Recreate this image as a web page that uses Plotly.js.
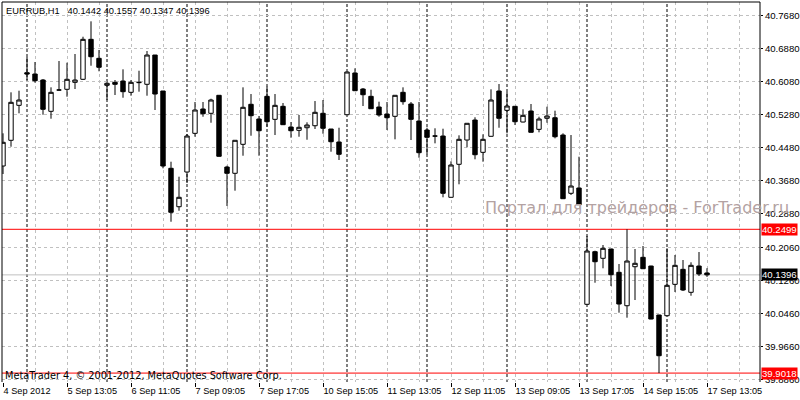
<!DOCTYPE html>
<html>
<head>
<meta charset="utf-8">
<script src="https://cdn.plot.ly/plotly-3.0.1.min.js"></script>
<style>html,body{margin:0;padding:0;background:#fff}#chart{width:800px;height:400px}</style>
</head>
<body>
<div id="chart"></div>
<script>
// ---- Data (EURRUB, H1) ----
const symbol = "EURRUB,H1";
const openP = [40.4032,40.4654,40.5501,40.6291,40.6259,40.6114,40.5356,40.5872,40.5889,40.6058,
  40.6131,40.7099,40.6639,40.5986,40.6058,40.6090,40.5816,40.6050,40.6010,40.6719,
  40.5848,40.3976,40.3046,40.3886,40.4823,40.5412,40.5308,40.5744,40.4007,40.3855,
  40.4557,40.5526,40.5170,40.5719,40.5162,40.5477,40.4976,40.4896,40.4959,40.5007,
  40.5308,40.4928,40.4613,40.5274,40.6284,40.5896,40.5719,40.5460,40.5291,40.5235,
  40.5816,40.5533,40.5121,40.4903,40.4760,40.4758,40.3274,40.4073,40.4661,40.5145,
  40.4363,40.4751,40.5848,40.5380,40.5477,40.5097,40.5363,40.4920,40.5187,40.5201,
  40.4782,40.3371,40.3499,40.0683,40.1957,40.1797,40.2022,40.1458,40.0649,40.1593,
  40.1821,40.1610,40.0424,40.0407,40.1167,40.1530,40.0974,40.1610,40.1442];
const highP = [40.4823,40.5816,40.5855,40.6671,40.6550,40.6138,40.5937,40.6574,40.6533,40.6744,
  40.7162,40.7535,40.6840,40.6073,40.6114,40.6373,40.6114,40.6339,40.6816,40.6719,
  40.5848,40.4136,40.3773,40.4807,40.5581,40.5581,40.5661,40.5744,40.4039,40.4654,
  40.5937,40.5775,40.5242,40.5952,40.5775,40.5557,40.5097,40.5267,40.5090,40.5605,
  40.5630,40.4928,40.4959,40.6308,40.6397,40.5920,40.5879,40.5589,40.5581,40.5744,
  40.5937,40.5581,40.5581,40.4959,40.4945,40.4935,40.4145,40.4775,40.5066,40.5211,
  40.4799,40.5889,40.6017,40.5823,40.5477,40.5405,40.5533,40.5225,40.5468,40.5371,
  40.4823,40.4782,40.4257,40.2337,40.1981,40.2119,40.2022,40.1659,40.2499,40.2022,
  40.2095,40.1615,40.0430,40.2039,40.1877,40.1756,40.1700,40.1949,40.1557];
const lowP = [40.3838,40.4499,40.5308,40.6114,40.6049,40.5274,40.5177,40.5865,40.5710,40.5896,
  40.6114,40.6460,40.6325,40.5630,40.5751,40.5685,40.5734,40.5831,40.5734,40.5388,
  40.3976,40.2683,40.2949,40.3620,40.4741,40.5225,40.5080,40.4260,40.3063,40.3434,
  40.4281,40.4765,40.4281,40.4983,40.4782,40.5025,40.4717,40.4741,40.4668,40.4928,
  40.4814,40.4378,40.4177,40.5274,40.5855,40.5484,40.5419,40.5225,40.4903,40.4678,
  40.5516,40.4661,40.4233,40.4315,40.4581,40.3274,40.3270,40.3589,40.4484,40.4194,
  40.4136,40.4745,40.4959,40.4823,40.5024,40.5090,40.4845,40.4848,40.5080,40.4702,
  40.3235,40.3330,40.3090,40.0678,40.1206,40.1555,40.1126,40.0480,40.0359,40.0787,
  40.1540,40.0322,39.9018,40.0402,40.0981,40.1005,40.0891,40.1368,40.1347];
const closeP = [40.4606,40.5574,40.5630,40.6259,40.6097,40.5405,40.5816,40.5872,40.6131,40.6114,
  40.7099,40.6678,40.6422,40.6034,40.6010,40.5831,40.6058,40.6058,40.6719,40.5775,
  40.4032,40.2911,40.3274,40.4758,40.5388,40.5298,40.5630,40.4267,40.3855,40.4654,
  40.5453,40.5250,40.4886,40.5104,40.5501,40.5032,40.4886,40.4969,40.5024,40.5332,
  40.4945,40.4620,40.4315,40.6308,40.5855,40.5758,40.5419,40.5267,40.5201,40.5744,
  40.5589,40.5162,40.4354,40.4727,40.4756,40.3371,40.4056,40.4678,40.5066,40.4305,
  40.4678,40.5630,40.5187,40.5484,40.5104,40.5259,40.4848,40.5170,40.5242,40.4741,
  40.3240,40.3547,40.3095,40.1974,40.1714,40.2039,40.1400,40.0690,40.1731,40.1676,
  40.1545,40.0327,39.9438,40.1143,40.1627,40.1029,40.1627,40.1417,40.1396];

// time-axis labels (bar index -> label)
const timeLabelBars = [0,8,16,24,32,40,48,56,64,72,80,88];
const timeLabels = ["4 Sep 2012","5 Sep 13:05","6 Sep 11:05","7 Sep 09:05","7 Sep 17:05","10 Sep 15:05",
  "11 Sep 13:05","12 Sep 11:05","13 Sep 09:05","13 Sep 17:05","14 Sep 15:05","17 Sep 13:05"];
// first bar of each day (period separators)
const daySeparatorBars = [3,13,23,33,43,53,63,73,83];
// price scale ticks
const priceTicks = [40.7680,40.6880,40.6080,40.5280,40.4480,40.3680,40.2880,40.2060,40.1260,40.0460,39.9660,39.8860];
// horizontal levels
const levelLines = [40.2499, 39.9018];

const barIdx = openP.map((_, i) => i);
const last = openP.length - 1;
const bid = closeP[last];
const fmt = v => v.toFixed(4);

const trace = {
  type: 'candlestick',
  x: barIdx, open: openP, high: highP, low: lowP, close: closeP,
  increasing: {line: {color: '#000000', width: 1}, fillcolor: '#ffffff'},
  decreasing: {line: {color: '#000000', width: 1}, fillcolor: '#000000'},
  whiskerwidth: 0,
  hoverinfo: 'skip',
  showlegend: false
};

const lab = "Liberation Sans, Arial, sans-serif";
const shapes = [];
daySeparatorBars.forEach(b => shapes.push({type:'line', xref:'x', yref:'paper', x0:b, x1:b, y0:0, y1:1,
  line:{color:'#000000', width:1, dash:'3px,2px'}, layer:'below'}));
levelLines.forEach(v => shapes.push({type:'line', xref:'paper', yref:'y', x0:0, x1:1, y0:v, y1:v,
  line:{color:'#ff0000', width:1}, layer:'below'}));
shapes.push({type:'line', xref:'paper', yref:'y', x0:0, x1:1, y0:bid, y1:bid, line:{color:'#c0c0c0', width:1}, layer:'below'});
// frame: left, top, right
shapes.push({type:'line', xref:'paper', yref:'paper', x0:0, x1:0, y0:0, y1:1, line:{color:'#000', width:1}});
shapes.push({type:'line', xref:'paper', yref:'paper', x0:0, x1:1, y0:1, y1:1, line:{color:'#000', width:1}});
shapes.push({type:'line', xref:'paper', yref:'paper', x0:1, x1:1, y0:0, y1:1, line:{color:'#000', width:1}});

const annotations = [];
levelLines.forEach(v => annotations.push({xref:'paper', yref:'y', x:1, y:v, xanchor:'left', yanchor:'middle', xshift:1,
  text: fmt(v), showarrow:false, bgcolor:'#ff0000', borderpad:0, font:{family:lab, size:9.6, color:'#ffffff'}}));
annotations.push({xref:'paper', yref:'y', x:1, y:bid, xanchor:'left', yanchor:'middle', xshift:1,
  text: fmt(bid), showarrow:false, bgcolor:'#000000', borderpad:0, font:{family:lab, size:9.6, color:'#ffffff'}});
annotations.push({xref:'paper', yref:'paper', x:0.001, y:0.0184, xanchor:'left', yanchor:'middle',
  text:'MetaTrader 4, © 2001-2012, MetaQuotes Software Corp.', showarrow:false,
  font:{family:'DejaVu Sans, sans-serif', size:9.75, color:'#000000'}});
annotations.push({xref:'paper', yref:'paper', x:0.634, y:0.458, xanchor:'left', yanchor:'middle',
  text:'Портал для трейдеров - ForTrader.ru', showarrow:false,
  font:{family:'DejaVu Sans, sans-serif', size:16, color:'#b3a2a2'}});

const layout = {
  width: 800, height: 400,
  margin: {l: 2, r: 40, t: 2, b: 18, pad: 0},
  paper_bgcolor: '#ffffff', plot_bgcolor: '#ffffff',
  showlegend: false,
  boxgap: 0.45, boxgroupgap: 0,
  title: {text: symbol + '\u00a0\u00a0 ' + [openP[last], highP[last], lowP[last], closeP[last]].map(fmt).join(' '),
    x: 6/800, xanchor: 'left', xref: 'container', y: 1 - 11/400, yanchor: 'middle', yref: 'container',
    font: {family: lab, size: 9.3, color: '#000000'}},
  xaxis: {
    type: 'linear', range: [-0.125, 94.625], rangeslider: {visible: false},
    tickmode: 'array', tickvals: timeLabelBars, ticktext: timeLabels,
    ticks: 'outside', ticklen: 4, tickcolor: '#000000', ticklabelposition: 'outside right',
    tickfont: {family: lab, size: 9.2, color: '#000000'},
    showgrid: true, gridcolor: '#c0c0c0', gridwidth: 1, griddash: '3px,3px',
    minor: {tickmode: 'linear', tick0: 0, dtick: 4, showgrid: true, gridcolor: '#c0c0c0', gridwidth: 1, griddash: '3px,3px', ticks: ''},
    zeroline: false, showline: false, fixedrange: true
  },
  yaxis: {
    side: 'right', range: [39.8802, 40.8003],
    tickmode: 'array', tickvals: priceTicks, ticktext: priceTicks.map(fmt),
    ticks: 'outside', ticklen: 2, tickcolor: '#000000',
    tickfont: {family: lab, size: 9.6, color: '#000000'},
    showgrid: true, gridcolor: '#c0c0c0', gridwidth: 1, griddash: '3px,3px',
    zeroline: false, showline: false, fixedrange: true
  },
  shapes: shapes,
  annotations: annotations
};

Plotly.newPlot('chart', [trace], layout, {displayModeBar: false, staticPlot: true});
</script>
</body>
</html>
